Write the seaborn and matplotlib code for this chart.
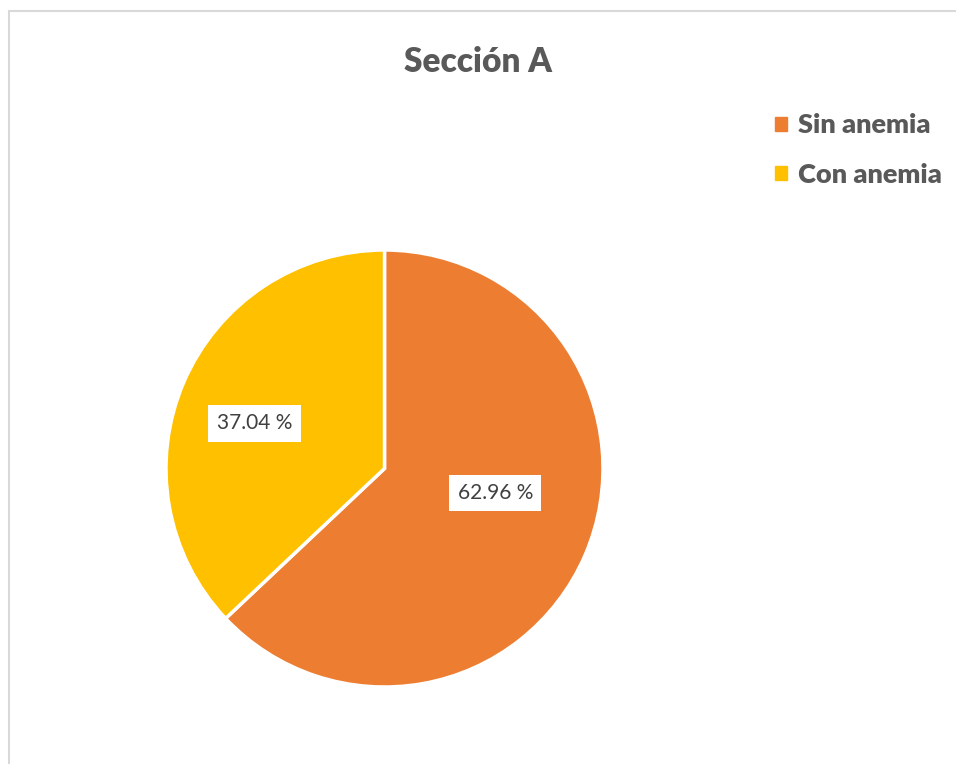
import matplotlib.pyplot as plt
import matplotlib.patches as mpatches
import seaborn as sns
import numpy as np

# Data
categories = ['Sin anemia', 'Con anemia']
percentages = [62.96, 37.04]
colors = ['#ED7D31', '#FFC000']
title = 'Sección A'

sns.set_style('white')
plt.rcParams['font.family'] = ['Lato', 'DejaVu Sans']

fig = plt.figure(figsize=(9.56, 7.64), dpi=100)

# light grey frame of the chart area (open to the right and bottom)
frame = mpatches.Rectangle((9 / 956, -0.05), 1.2, (764 - 11) / 764 + 0.05,
                           transform=fig.transFigure, fill=False,
                           edgecolor='#D9D9D9', linewidth=1.5)
fig.add_artist(frame)

ax = fig.add_axes([166 / 956, 77 / 764, 437 / 956, 437 / 764])
wedges, _ = ax.pie(percentages, colors=colors, startangle=90, counterclock=False,
                   wedgeprops={'edgecolor': 'white', 'linewidth': 2.5})
ax.set_xlim(-1, 1)
ax.set_ylim(-1, 1)
ax.set_aspect('equal')
ax.axis('off')

# data labels placed inside the slices
label_pos = [(0.52, -12.4), (0.63, 160.8)]
for pct, (r, ang) in zip(percentages, label_pos):
    x = r * np.cos(np.radians(ang))
    y = r * np.sin(np.radians(ang))
    ax.text(x, y, f'{pct:.2f} %', ha='center', va='center', fontsize=15,
            color='#404040',
            bbox=dict(boxstyle='square,pad=0.4', facecolor='white', edgecolor='none'))

fig.text(478 / 956, 1 - 62 / 764, title, ha='center', va='center',
         fontsize=24, fontweight='heavy', color='#595959')

handles = [mpatches.Patch(color=c, label=l) for c, l in zip(colors, categories)]
fig.legend(handles=handles, loc='upper left', bbox_to_anchor=(751 / 956, 1 - 89 / 764),
           frameon=False, prop={'weight': 'heavy', 'size': 19.5},
           handlelength=0.42, handleheight=0.42, handletextpad=0.42, labelspacing=0.93,
           labelcolor='#595959')

fig.savefig('out.png', dpi=100)
